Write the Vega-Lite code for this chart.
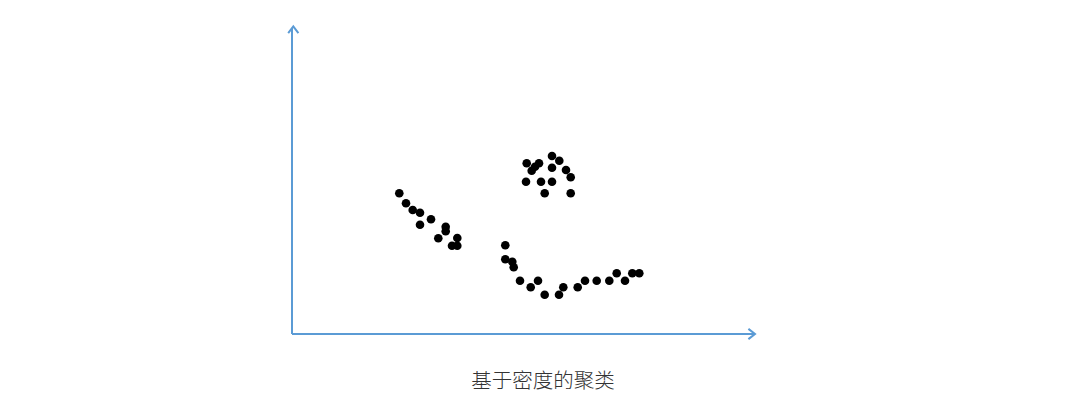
{
  "$schema": "https://vega.github.io/schema/vega-lite/v6.json",
  "width": 1080,
  "height": 408,
  "autosize": {"type": "fit", "contains": "padding"},
  "padding": 0,
  "background": "white",
  "config": {"view": {"stroke": null}},
  "datasets": {
    "pts": [
      {"x": 107.3, "y": 140.7}, {"x": 114, "y": 130.7}, {"x": 120.7, "y": 124}, {"x": 128, "y": 121.3},
      {"x": 128, "y": 109.3}, {"x": 139, "y": 114.7}, {"x": 153.7, "y": 107.3}, {"x": 153.7, "y": 102.7},
      {"x": 146.3, "y": 95.7}, {"x": 165.3, "y": 96}, {"x": 160, "y": 88.3}, {"x": 165.3, "y": 88.3},
      {"x": 234.7, "y": 170.7}, {"x": 247, "y": 170.7}, {"x": 243, "y": 167.3}, {"x": 239.7, "y": 163.3},
      {"x": 260, "y": 178}, {"x": 267.3, "y": 173.3}, {"x": 260, "y": 166.3}, {"x": 274, "y": 164},
      {"x": 278.7, "y": 156.7}, {"x": 234, "y": 152.3}, {"x": 249, "y": 152.3}, {"x": 260, "y": 152.3},
      {"x": 252.7, "y": 140.7}, {"x": 278.7, "y": 140.7},
      {"x": 213.3, "y": 88.7}, {"x": 213.3, "y": 74.7}, {"x": 220.3, "y": 72.3}, {"x": 221.7, "y": 66.7},
      {"x": 228, "y": 53.3}, {"x": 246, "y": 53.3}, {"x": 238.7, "y": 46.7}, {"x": 252.7, "y": 39.3},
      {"x": 267, "y": 39.3}, {"x": 271.3, "y": 46.7}, {"x": 285.7, "y": 46.7}, {"x": 293, "y": 53.3},
      {"x": 304.7, "y": 53.3}, {"x": 317.3, "y": 53.3}, {"x": 324.7, "y": 60.7}, {"x": 333, "y": 53.3},
      {"x": 340.3, "y": 60.7}, {"x": 347.3, "y": 60.7}
    ],
    "axes": [
      {"axis": "x", "x": 0, "y": 0, "x2": 462, "y2": 0},
      {"axis": "y", "x": 0, "y": 0, "x2": 0, "y2": 306}
    ],
    "xtip": [{"x": 463, "y": 0}],
    "ytip": [{"x": 1.3, "y": 307.5}],
    "label": [{"x": 251, "y": -48, "text": "基于密度的聚类"}]
  },
  "layer": [
    {
      "data": {"name": "axes"},
      "mark": {"type": "rule", "color": "#5B9BD5", "strokeWidth": 2},
      "encoding": {
        "x": {"field": "x", "type": "quantitative", "scale": {"domain": [-292, 788], "nice": false, "zero": false}, "axis": null},
        "y": {"field": "y", "type": "quantitative", "scale": {"domain": [-74, 334], "nice": false, "zero": false}, "axis": null},
        "x2": {"field": "x2"},
        "y2": {"field": "y2"}
      }
    },
    {
      "data": {"name": "xtip"},
      "mark": {"type": "point", "shape": "M-1.1,-0.85L0,0L-1.1,0.85", "filled": false, "stroke": "#5B9BD5", "strokeWidth": 2, "size": 144, "opacity": 1},
      "encoding": {
        "x": {"field": "x", "type": "quantitative"},
        "y": {"field": "y", "type": "quantitative"}
      }
    },
    {
      "data": {"name": "ytip"},
      "mark": {"type": "point", "shape": "M-0.85,1.1L0,0L0.85,1.1", "filled": false, "stroke": "#5B9BD5", "strokeWidth": 2, "size": 144, "opacity": 1},
      "encoding": {
        "x": {"field": "x", "type": "quantitative"},
        "y": {"field": "y", "type": "quantitative"}
      }
    },
    {
      "data": {"name": "pts"},
      "mark": {"type": "circle", "color": "black", "size": 74, "opacity": 1},
      "encoding": {
        "x": {"field": "x", "type": "quantitative"},
        "y": {"field": "y", "type": "quantitative"}
      }
    },
    {
      "data": {"name": "label"},
      "mark": {"type": "text", "font": "Noto Sans CJK SC", "fontSize": 20.5, "fontWeight": 300, "color": "#333333", "align": "center", "baseline": "middle"},
      "encoding": {
        "x": {"field": "x", "type": "quantitative"},
        "y": {"field": "y", "type": "quantitative"},
        "text": {"field": "text"}
      }
    }
  ]
}
